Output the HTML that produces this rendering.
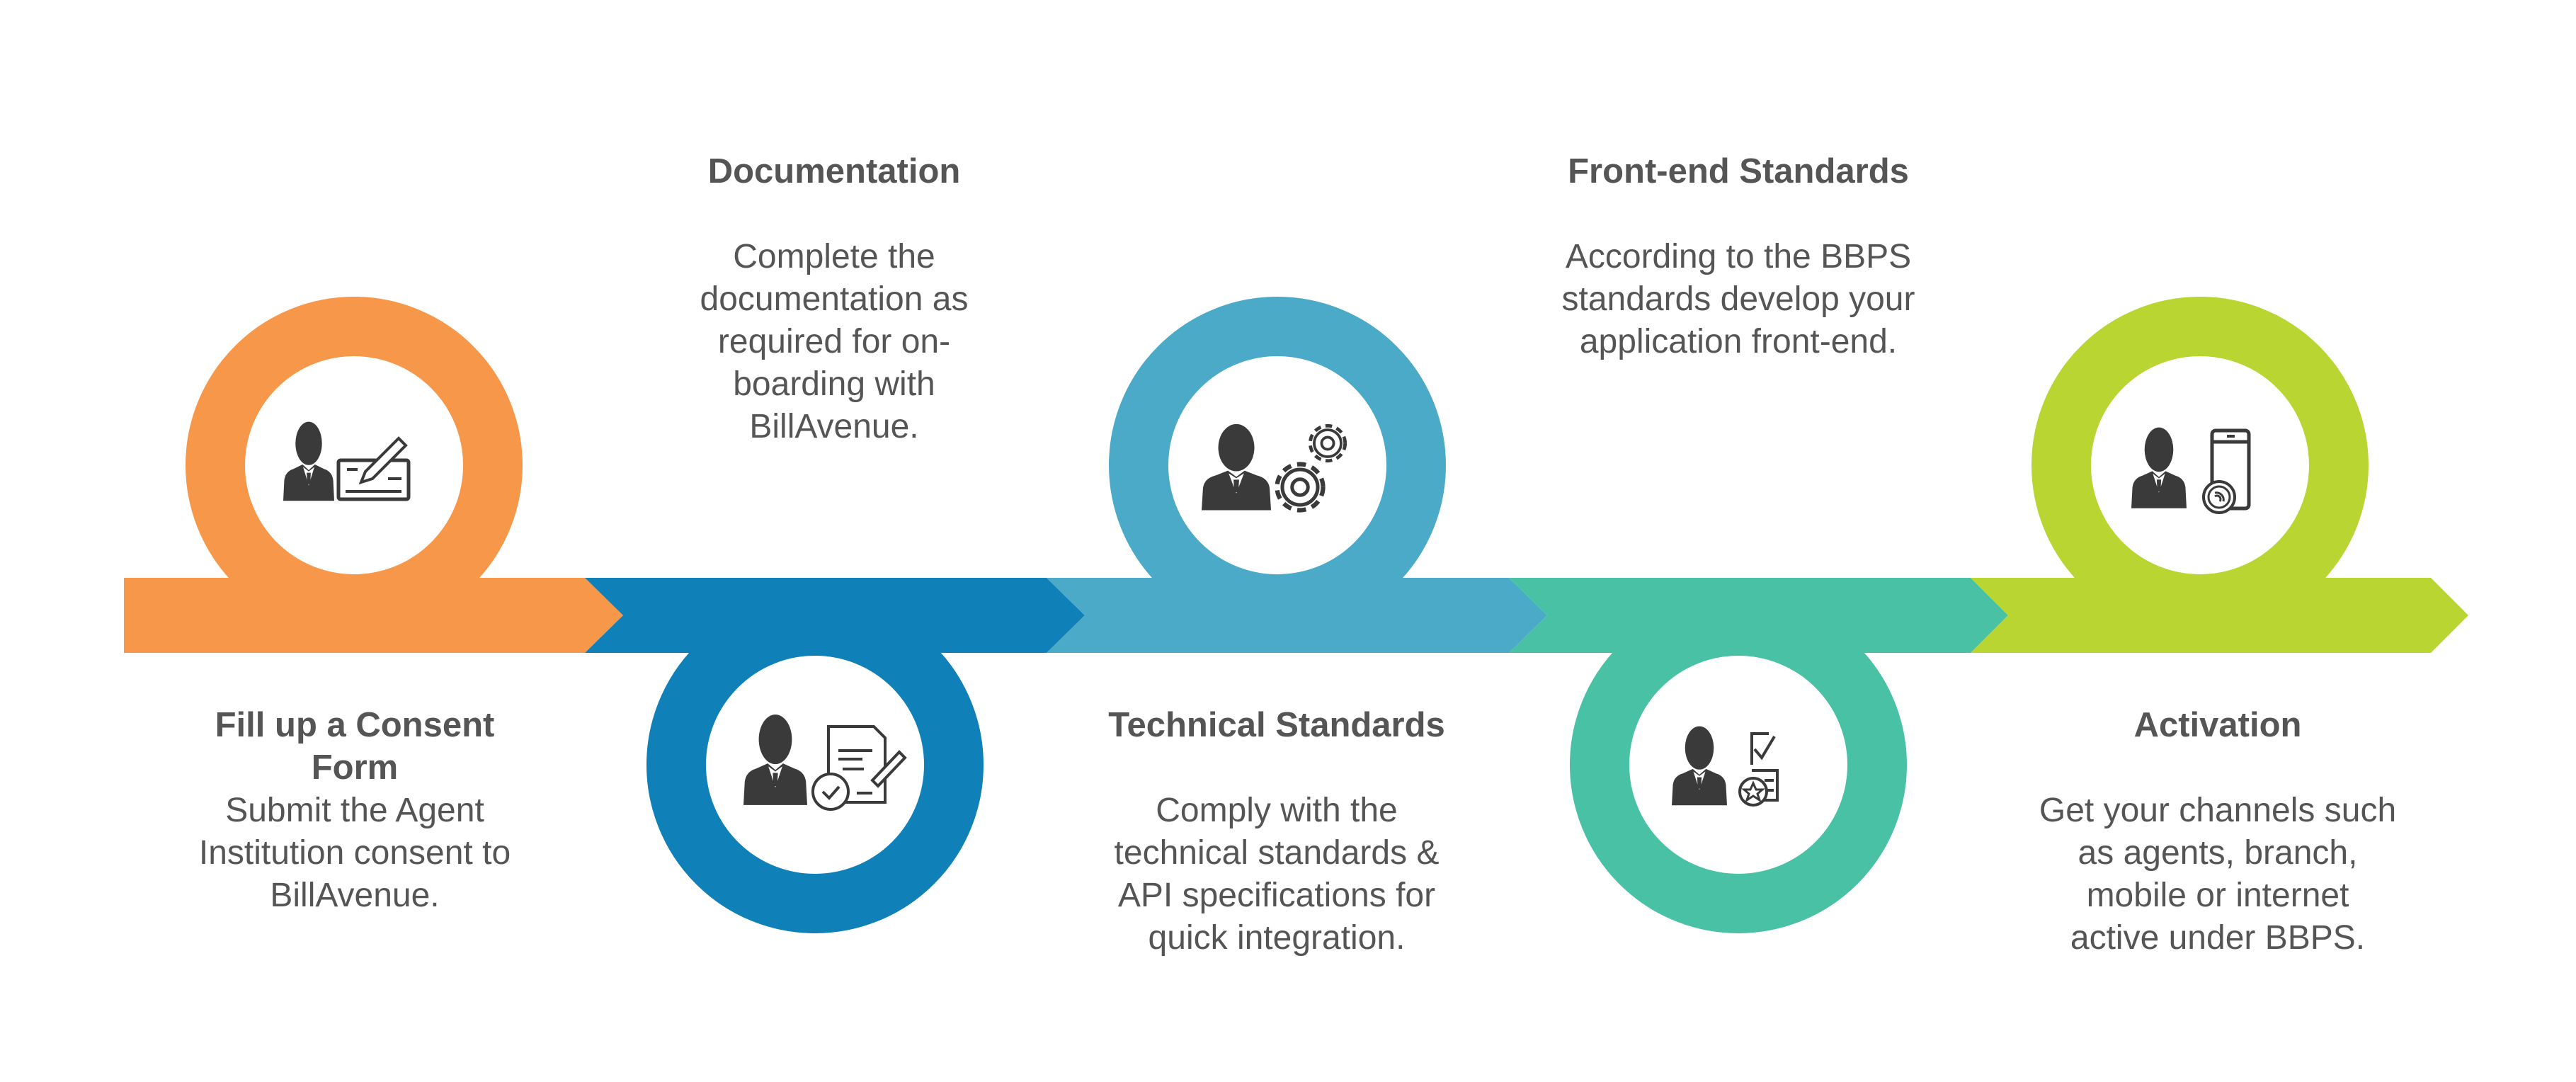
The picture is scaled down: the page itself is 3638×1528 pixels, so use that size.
<!DOCTYPE html>
<html><head><meta charset="utf-8"><style>
html,body{margin:0;padding:0;background:#fff;}
svg{display:block;}
text{font-family:"Liberation Sans",Arial,sans-serif;fill:#555;text-anchor:middle;}
.t{font-weight:bold;font-size:49px;}
.b{font-size:48px;}
</style></head><body>
<svg width="3638" height="1528" viewBox="0 0 3638 1528" xmlns="http://www.w3.org/2000/svg">
<defs>
<g id="person">
<ellipse cx="50" cy="38" rx="26" ry="34" fill="#3a3a3a"/>
<path d="M0 128 L2 96 Q4 82 20 78 L38 71 L50 80 L62 71 L80 78 Q96 82 98 96 L100 128 Z" fill="#3a3a3a"/>
<polygon points="39,75 50,104 61,75 50,82" fill="#fff"/>
<polygon points="46,84 54,84 53,102 47,102" fill="#3a3a3a"/>
</g>
<g id="gear">
<circle r="26" fill="none" stroke="#3a3a3a" stroke-width="5" stroke-dasharray="10 7"/>
<circle r="20" fill="none" stroke="#3a3a3a" stroke-width="4"/>
<circle r="9" fill="none" stroke="#3a3a3a" stroke-width="4"/>
</g>
</defs>

<g fill="#fff" stroke-width="84">
<circle cx="500" cy="657" r="196" stroke="#F7974A"/>
<circle cx="1151" cy="1080" r="196" stroke="#0F80B8"/>
<circle cx="1804" cy="657" r="196" stroke="#4BAAC8"/>
<circle cx="2455" cy="1080" r="196" stroke="#48C1A4"/>
<circle cx="3107" cy="657" r="196" stroke="#B9D532"/>
</g>

<polygon points="175,816 826,816 880,869 826,922 175,922" fill="#F7974A"/>
<polygon points="826,816 1478,816 1532,869 1478,922 826,922 880,869" fill="#0F80B8"/>
<polygon points="1478,816 2131,816 2185,869 2131,922 1478,922 1532,869" fill="#4BAAC8"/>
<polygon points="2131,816 2783,816 2836,869 2783,922 2131,922 2185,869" fill="#48C1A4"/>
<polygon points="2783,816 3433,816 3486,869 3433,922 2783,922 2836,869" fill="#B9D532"/>

<g transform="translate(400,592) scale(0.72,0.9)"><use href="#person"/></g>
<g stroke="#3a3a3a" fill="none">
<rect x="478" y="650" width="99" height="55" rx="3" stroke-width="5"/>
<line x1="488" y1="694" x2="567" y2="694" stroke-width="4"/>
<line x1="490" y1="663" x2="505" y2="663" stroke-width="4"/>
<line x1="548" y1="676" x2="567" y2="676" stroke-width="4"/>
<path d="M510 681 L516 666 L563 619 L573 629 L526 676 Z" fill="#fff" stroke-width="4"/>
</g>

<g transform="translate(1050,1005) scale(0.9,1.03)"><use href="#person"/></g>
<g stroke="#3a3a3a" fill="none" stroke-width="4">
<path d="M1170 1026 L1234 1026 L1250 1042 L1250 1133 L1170 1133 Z" fill="#fff"/>
<line x1="1184" y1="1060" x2="1232" y2="1060"/>
<line x1="1184" y1="1072" x2="1218" y2="1072"/>
<line x1="1190" y1="1086" x2="1220" y2="1086"/>
<line x1="1210" y1="1120" x2="1232" y2="1120"/>
<path d="M1232 1102 L1270 1062 L1278 1070 L1240 1110 Z" fill="#fff"/>
<circle cx="1173" cy="1118" r="25" fill="#fff"/>
<path d="M1162 1118 L1171 1127 L1185 1111"/>
</g>

<g transform="translate(1697,595) scale(0.98,0.98)"><use href="#person"/></g>
<use href="#gear" transform="translate(1836,688) scale(1.25)"/>
<use href="#gear" transform="translate(1875,626) scale(0.95)"/>

<g transform="translate(2361,1022) scale(0.78,0.9)"><use href="#person"/></g>
<g stroke="#3a3a3a" fill="none" stroke-width="4">
<path d="M2474 1080 L2474 1036 L2498 1036"/>
<path d="M2478 1058 L2488 1070 L2506 1040"/>
<path d="M2474 1088 L2510 1088 L2510 1130 L2474 1130"/>
<line x1="2492" y1="1102" x2="2505" y2="1102"/>
<line x1="2492" y1="1116" x2="2505" y2="1116"/>
<circle cx="2476" cy="1118" r="19" fill="#fff"/>
<polygon points="2476,1106 2480,1115 2489,1115 2482,1121 2485,1130 2476,1124 2467,1130 2470,1121 2463,1115 2472,1115" stroke-width="3"/>
</g>

<g transform="translate(3010,600) scale(0.78,0.92)"><use href="#person"/></g>
<g stroke="#3a3a3a" fill="none" stroke-width="5">
<rect x="3124" y="608" width="52" height="110" rx="5" fill="#fff"/>
<line x1="3124" y1="624" x2="3176" y2="624"/>
<line x1="3145" y1="616" x2="3156" y2="616" stroke-width="4"/>
<circle cx="3134" cy="702" r="22" fill="#fff" stroke-width="4"/>
<circle cx="3134" cy="702" r="15" stroke-width="3"/>
<path d="M3128 696 A10 10 0 0 1 3140 708 M3128 701 A5 5 0 0 1 3135 708" stroke-width="3"/>
</g>

<text class="t" x="1178" y="258">Documentation</text>
<text class="b" x="1178" y="378">Complete the</text>
<text class="b" x="1178" y="438">documentation as</text>
<text class="b" x="1178" y="498">required for on-</text>
<text class="b" x="1178" y="558">boarding with</text>
<text class="b" x="1178" y="618">BillAvenue.</text>

<text class="t" x="2455" y="258">Front-end Standards</text>
<text class="b" x="2455" y="378">According to the BBPS</text>
<text class="b" x="2455" y="438">standards develop your</text>
<text class="b" x="2455" y="498">application front-end.</text>

<text class="t" x="501" y="1040">Fill up a Consent</text>
<text class="t" x="501" y="1100">Form</text>
<text class="b" x="501" y="1160">Submit the Agent</text>
<text class="b" x="501" y="1220">Institution consent to</text>
<text class="b" x="501" y="1280">BillAvenue.</text>

<text class="t" x="1803" y="1040">Technical Standards</text>
<text class="b" x="1803" y="1160">Comply with the</text>
<text class="b" x="1803" y="1220">technical standards &amp;</text>
<text class="b" x="1803" y="1280">API specifications for</text>
<text class="b" x="1803" y="1340">quick integration.</text>

<text class="t" x="3132" y="1040">Activation</text>
<text class="b" x="3132" y="1160">Get your channels such</text>
<text class="b" x="3132" y="1220">as agents, branch,</text>
<text class="b" x="3132" y="1280">mobile or internet</text>
<text class="b" x="3132" y="1340">active under BBPS.</text>
</svg>
</body></html>
